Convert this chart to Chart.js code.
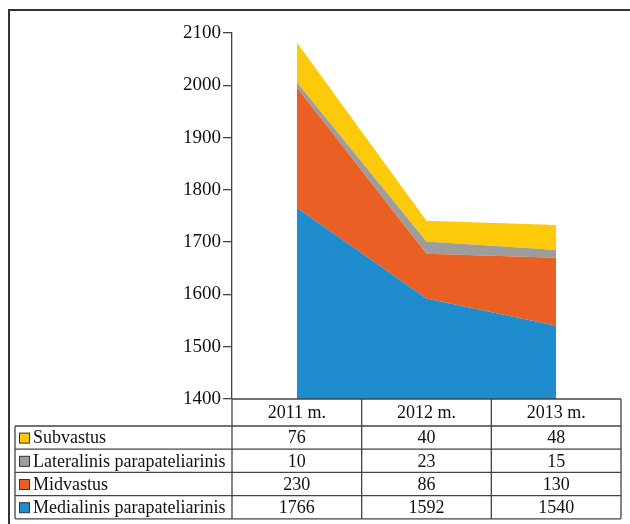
<!DOCTYPE html>
<html>
<head>
<meta charset="utf-8">
<script src="https://cdn.jsdelivr.net/npm/chart.js@4"></script>
<style>
  html, body { margin: 0; padding: 0; background: #fff; }
  #wrap { width: 630px; height: 524px; position: relative; }
</style>
</head>
<body>
<div id="wrap"><canvas id="kneeChart" width="630" height="524"></canvas></div>
<script>
// Data
const years = ["2011 m.", "2012 m.", "2013 m."];
const medialinis = [1766, 1592, 1540];
const midvastus = [230, 86, 130];
const lateralinis = [10, 23, 15];
const subvastus = [76, 40, 48];
const yTicks = [1400, 1500, 1600, 1700, 1800, 1900, 2000, 2100];

const FONT = "Liberation Serif";
const LINE = "#444";

// table rows, top to bottom (reverse of stacking order)
const tableRows = [
    { name: "Subvastus", values: subvastus, color: "#fcca0a" },
    { name: "Lateralinis parapateliarinis", values: lateralinis, color: "#9d9d9d" },
    { name: "Midvastus", values: midvastus, color: "#ea5f23" },
    { name: "Medialinis parapateliarinis", values: medialinis, color: "#1f8dcd" }
];

// data table + page frame under the plot
const dataTable = {
    id: "dataTable",
    afterDraw(chart) {
        const c = chart.ctx;
        const area = chart.chartArea;
        const x = chart.scales.x;
        const left = 15;
        const top = area.bottom;
        const headerH = 27;
        const rowH = 23.2;
        const n = years.length;
        const colW = (area.right - area.left) / n;

        c.save();
        // frame
        c.strokeStyle = "#333";
        c.lineWidth = 2;
        c.beginPath();
        c.moveTo(630, 10);
        c.lineTo(9, 10);
        c.lineTo(9, 524);
        c.stroke();

        c.strokeStyle = LINE;
        c.lineWidth = 1.3;
        const bottom = top + headerH + rowH * tableRows.length;
        c.beginPath();
        // horizontal lines
        c.moveTo(area.left, top);
        c.lineTo(area.right, top);
        for (let i = 0; i <= tableRows.length; i++) {
            const y = top + headerH + rowH * i;
            c.moveTo(left, y);
            c.lineTo(area.right, y);
        }
        // vertical lines
        c.moveTo(left, top + headerH);
        c.lineTo(left, bottom);
        for (let j = 0; j <= n; j++) {
            const xx = area.left + colW * j;
            c.moveTo(xx, top);
            c.lineTo(xx, bottom);
        }
        c.stroke();

        c.fillStyle = "#111";
        c.font = "18px '" + FONT + "'";
        c.textBaseline = "middle";
        c.textAlign = "center";
        years.forEach((yr, j) => {
            c.fillText(yr, x.getPixelForTick(j), top + headerH / 2 + 1);
        });
        tableRows.forEach((row, i) => {
            const cy = top + headerH + rowH * i + rowH / 2 + 1;
            // swatch
            c.fillStyle = row.color;
            c.fillRect(19.5, cy - 5.5, 10, 10);
            c.strokeStyle = "#333";
            c.lineWidth = 1;
            c.strokeRect(19.5, cy - 5.5, 10, 10);
            c.fillStyle = "#111";
            c.textAlign = "left";
            c.fillText(row.name, 33, cy);
            c.textAlign = "center";
            row.values.forEach((v, j) => {
                c.fillText(String(v), x.getPixelForTick(j), cy);
            });
        });
        c.restore();
    }
};

const stack = [
    { label: tableRows[3].name, data: medialinis, color: tableRows[3].color, fill: "start" },
    { label: tableRows[2].name, data: midvastus, color: tableRows[2].color, fill: "-1" },
    { label: tableRows[1].name, data: lateralinis, color: tableRows[1].color, fill: "-1" },
    { label: tableRows[0].name, data: subvastus, color: tableRows[0].color, fill: "-1" }
];

const ctx = document.getElementById("kneeChart").getContext("2d");
const kneeChart = new Chart(ctx, {
    type: "line",
    data: {
        labels: years,
        datasets: stack.map(s => ({
            label: s.label,
            data: s.data,
            backgroundColor: s.color,
            borderColor: s.color,
            borderWidth: 0,
            pointRadius: 0,
            fill: s.fill,
            tension: 0
        }))
    },
    options: {
        responsive: false,
        animation: false,
        layout: { padding: { left: 0, top: 33, right: 9, bottom: 125 } },
        plugins: {
            legend: { display: false },
            tooltip: { enabled: false }
        },
        scales: {
            x: {
                display: false,
                offset: true
            },
            y: {
                stacked: true,
                min: yTicks[0],
                max: yTicks[yTicks.length - 1],
                afterBuildTicks: axis => {
                    axis.ticks = yTicks.map(v => ({ value: v }));
                },
                afterFit: axis => { axis.width = 232; },
                grid: {
                    drawOnChartArea: false,
                    drawTicks: true,
                    tickLength: 9,
                    color: LINE,
                    lineWidth: 1.3
                },
                border: { display: true, color: LINE, width: 1.3 },
                ticks: {
                    color: "#111",
                    padding: 2,
                    font: { family: FONT, size: 19 },
                    callback: v => String(v)
                }
            }
        }
    },
    plugins: [dataTable]
});
</script>
</body>
</html>
